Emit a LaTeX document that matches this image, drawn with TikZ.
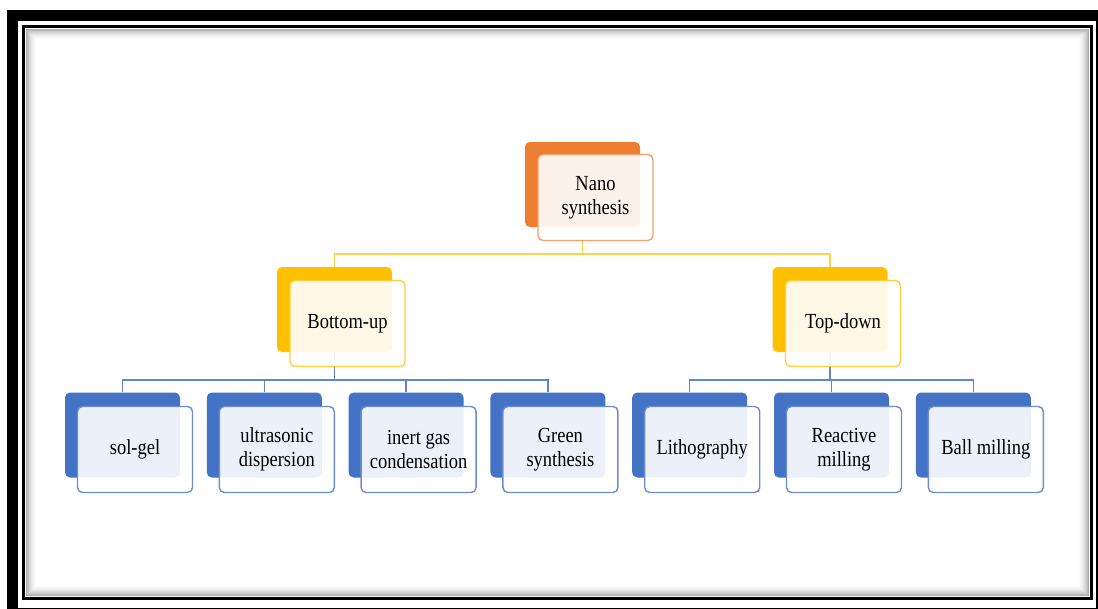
\documentclass[tikz,border=0pt]{standalone}
\usepackage{fontspec}
\newfontfamily\lblfont[FakeStretch=0.86]{Liberation Serif}
\definecolor{orgC}{HTML}{ED7D31}
\definecolor{orgL}{HTML}{F2A070}
\definecolor{gldC}{HTML}{FFC000}
\definecolor{gldL}{HTML}{FFCF40}
\definecolor{bluC}{HTML}{4472C4}
\definecolor{bluL}{HTML}{6A8ED0}
\definecolor{lnY}{HTML}{FFD24D}
\definecolor{lnB}{HTML}{5F85CC}
\begin{document}
\begin{tikzpicture}[x=1pt,y=-1pt,
  back/.style={rectangle,rounded corners=5pt,minimum width=115pt,minimum height=85pt,inner sep=0pt,draw=none},
  front/.style={rectangle,rounded corners=5pt,minimum width=115pt,minimum height=86pt,inner sep=0pt,fill=white,fill opacity=0.9,text opacity=1,line width=1.4pt,align=center,font=\lblfont\fontsize{21.5}{24}\selectfont,text=black},
  conn/.style={line width=1.5pt}
]
\useasboundingbox (0,0) rectangle (1098,608);
\fill[white] (0,0) rectangle (1098,608);
% frames
\draw[line width=11pt] (12.5,15.5) rectangle (1101,613);
\foreach \i/\g in {0/32,1/26,2/21,3/17,4/13,5/10,6/7,7/5,8/3,9/1.5}{
  \draw[black!\g,line width=1pt] ({25.75+0.5+\i},{28.75+0.5+\i}) rectangle ({1089.25-0.5-\i},{596.25-0.5-\i});
}
\draw[line width=3.5pt] (23.5,26.5) rectangle (1091.5,598.5);
% coordinates
\coordinate (jt) at (582.5,254);
\coordinate (jl) at (334.5,380);
\coordinate (jr) at (830,380);
% back boxes
\node[back,fill=orgC] (topB) at (582.5,184.5) {};
\node[back,fill=gldC] (buB) at (334.5,309.5) {};
\node[back,fill=gldC] (tdB) at (830,309.5) {};
\foreach \n/\x in {a/122.5,b/264.3,c/406.1,d/547.9,e/689.7,f/831.5,g/973.3}{
  \node[back,fill=bluC] (\n B) at (\x,435) {};
}
% connectors
\draw[conn,lnY] (topB.south) -- (jt);
\draw[conn,lnY] (buB.north) |- (jt);
\draw[conn,lnY] (tdB.north) |- (jt);
\draw[conn,lnB] (buB.south) -- (jl);
\draw[conn,lnB] (tdB.south) -- (jr);
\foreach \n in {a,b,c,d}{ \draw[conn,lnB] (\n B.north) |- (jl); }
\foreach \n in {e,f,g}{ \draw[conn,lnB] (\n B.north) |- (jr); }
% front boxes
\node[front,draw=orgL] (topF) at (595.5,197.5) {Nano\\synthesis};
\node[front,draw=gldL] (buF) at (347.5,323.5) {Bottom-up};
\node[front,draw=gldL] (tdF) at (843,323.5) {Top-down};
\node[front,draw=bluL] (aF) at (135,449.5) {sol-gel};
\node[front,draw=bluL] (bF) at (276.8,449.5) {ultrasonic\\dispersion};
\node[front,draw=bluL] (cF) at (418.6,449.5) {inert gas\\condensation};
\node[front,draw=bluL] (dF) at (560.4,449.5) {Green\\synthesis};
\node[front,draw=bluL] (eF) at (702.2,449.5) {Lithography};
\node[front,draw=bluL] (fF) at (844,449.5) {Reactive\\milling};
\node[front,draw=bluL] (gF) at (985.8,449.5) {Ball milling};
\end{tikzpicture}
\end{document}
